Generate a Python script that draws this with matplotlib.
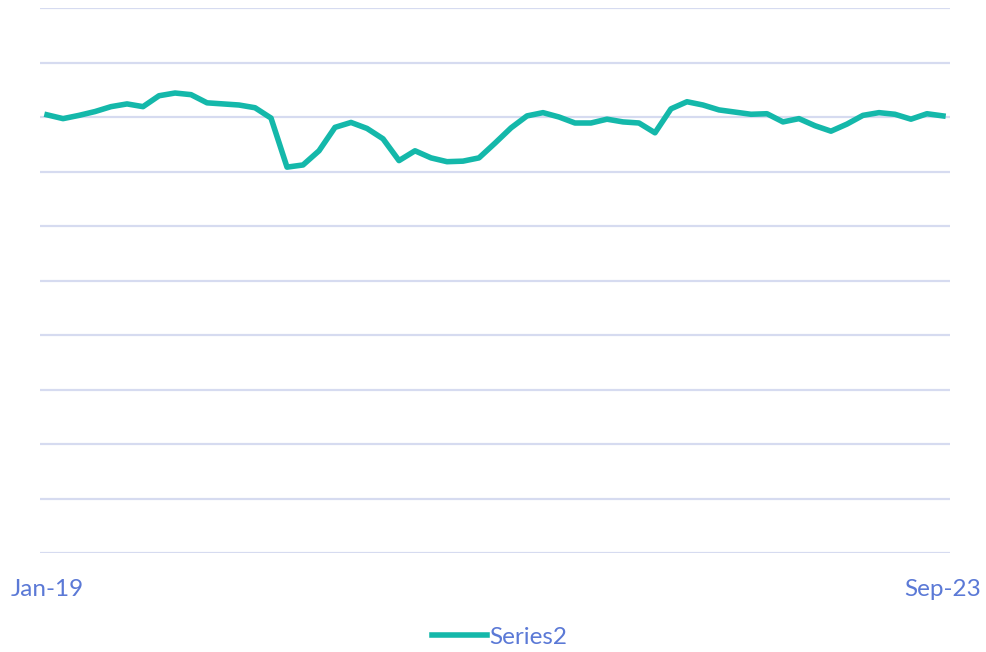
import matplotlib.pyplot as plt

# monthly values Jan-19 .. Sep-23 (57 points)
months = ["Jan-19"] + [""] * 55 + ["Sep-23"]
series2 = [
    80.4, 79.7, 80.3, 81.0, 81.9, 82.4, 81.9, 83.9, 84.4, 84.1,
    82.6, 82.4, 82.2, 81.7, 79.8, 70.8, 71.2, 73.8, 78.1, 79.0,
    77.9, 76.0, 72.0, 73.8, 72.5, 71.8, 71.9, 72.5, 75.2, 78.0,
    80.2, 80.8, 80.0, 78.9, 78.9, 79.6, 79.1, 78.9, 77.1, 81.5,
    82.8, 82.2, 81.3, 80.9, 80.5, 80.6, 79.1, 79.7, 78.4, 77.4,
    78.7, 80.3, 80.8, 80.5, 79.6, 80.6, 80.2,
]

text_col = "#5B79D6"
line_col = "#14B8AA"
grid_col = "#D6DBF0"

fig = plt.figure(figsize=(9.87, 6.52), dpi=100)
ax = fig.add_axes([40 / 987, 99 / 652, 910 / 987, 545 / 652])

x = list(range(len(series2)))
ax.plot(x, series2, color=line_col, linewidth=4, solid_joinstyle="round",
        label="Series2")

ax.set_ylim(0, 100)
ax.set_yticks(range(0, 101, 10))
ax.set_xlim(-0.44, len(series2) - 1 + 0.44)
ax.set_xticks([0, len(series2) - 1])
ax.set_xticklabels([months[0], months[-1]])
ax.grid(axis="y", color=grid_col, linewidth=1.6)
ax.set_axisbelow(True)
ax.tick_params(axis="y", left=False, labelleft=False)
ax.tick_params(axis="x", length=0, pad=19, labelsize=17.5, labelcolor=text_col)
for s in ax.spines.values():
    s.set_visible(False)
for lbl in ax.get_xticklabels():
    lbl.set_fontfamily("Lato")

leg = fig.legend(loc="center", bbox_to_anchor=(500 / 987, 1 - 637 / 652),
                 frameon=False, handlelength=2.25, handletextpad=0.1,
                 prop={"family": "Lato", "size": 17.5})
for t in leg.get_texts():
    t.set_color(text_col)

fig.savefig("out.png")
